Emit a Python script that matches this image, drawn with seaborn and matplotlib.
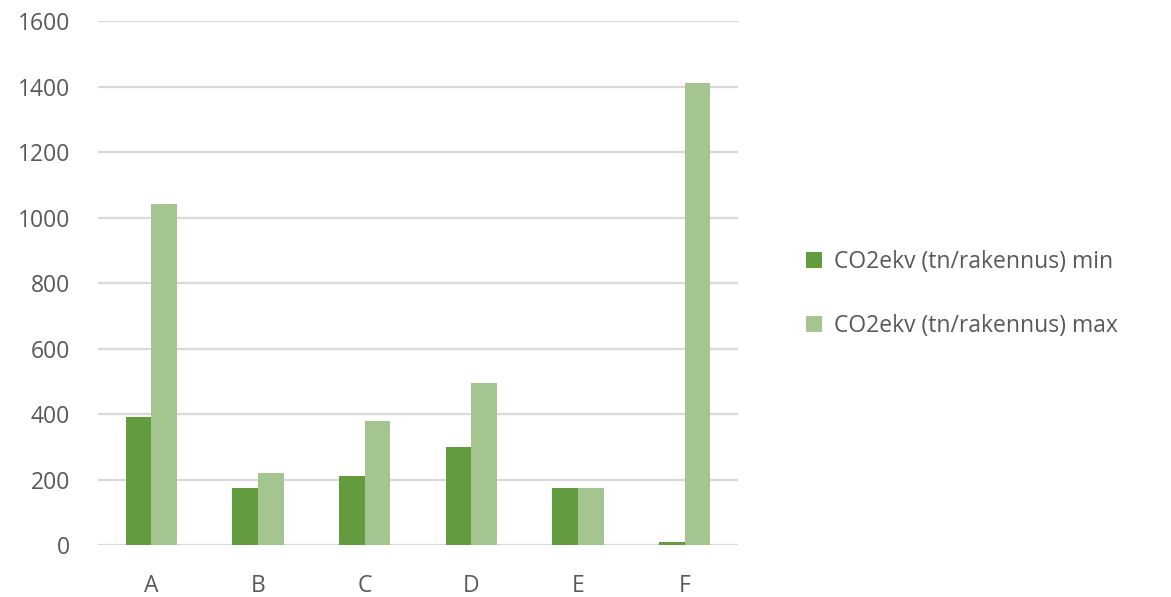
import pandas as pd
import matplotlib
matplotlib.use("Agg")
import matplotlib.pyplot as plt
import seaborn as sns

# --- Data ---
categories = ["A", "B", "C", "D", "E", "F"]
co2_min = [390, 175, 210, 300, 175, 8]
co2_max = [1040, 220, 380, 495, 175, 1410]
series_names = ["CO2ekv (tn/rakennus) min", "CO2ekv (tn/rakennus) max"]
colors = ["#639B3F", "#A4C490"]

df = pd.DataFrame({
    "category": categories * 2,
    "value": co2_min + co2_max,
    "series": [series_names[0]] * len(categories) + [series_names[1]] * len(categories),
})

sns.set_theme(style="white")
plt.rcParams["font.family"] = ["Open Sans", "DejaVu Sans"]

fig = plt.figure(figsize=(11.71, 5.97), dpi=100)
ax = fig.add_axes([0.0837, 0.0871, 0.5465, 0.8777])

sns.barplot(data=df, x="category", y="value", hue="series", palette=colors,
            width=0.48, saturation=1, ax=ax, linewidth=0)

# --- Axes styling ---
ax.set_ylim(0, 1600)
ax.set_yticks(range(0, 1601, 200))
ax.set_xlim(-0.5, len(categories) - 0.5)
ax.yaxis.grid(True, color="#D9D9D9", linewidth=1.6)
ax.set_axisbelow(True)
for s in ax.spines.values():
    s.set_visible(False)
ax.tick_params(axis="both", length=0, labelsize=16.5, labelcolor="#595959")
ax.tick_params(axis="y", pad=20)
ax.tick_params(axis="x", pad=21)
ax.set_xlabel("")
ax.set_ylabel("")

# --- Legend ---
handles, labels = ax.get_legend_handles_labels()
ax.legend(handles, labels, loc="center left", bbox_to_anchor=(0.671, 0.508),
          bbox_transform=fig.transFigure, frameon=False, fontsize=16.5,
          labelcolor="#595959", handlelength=0.7, handleheight=0.7,
          handletextpad=0.5, labelspacing=1.75)

fig.savefig("out.png", dpi=100)
